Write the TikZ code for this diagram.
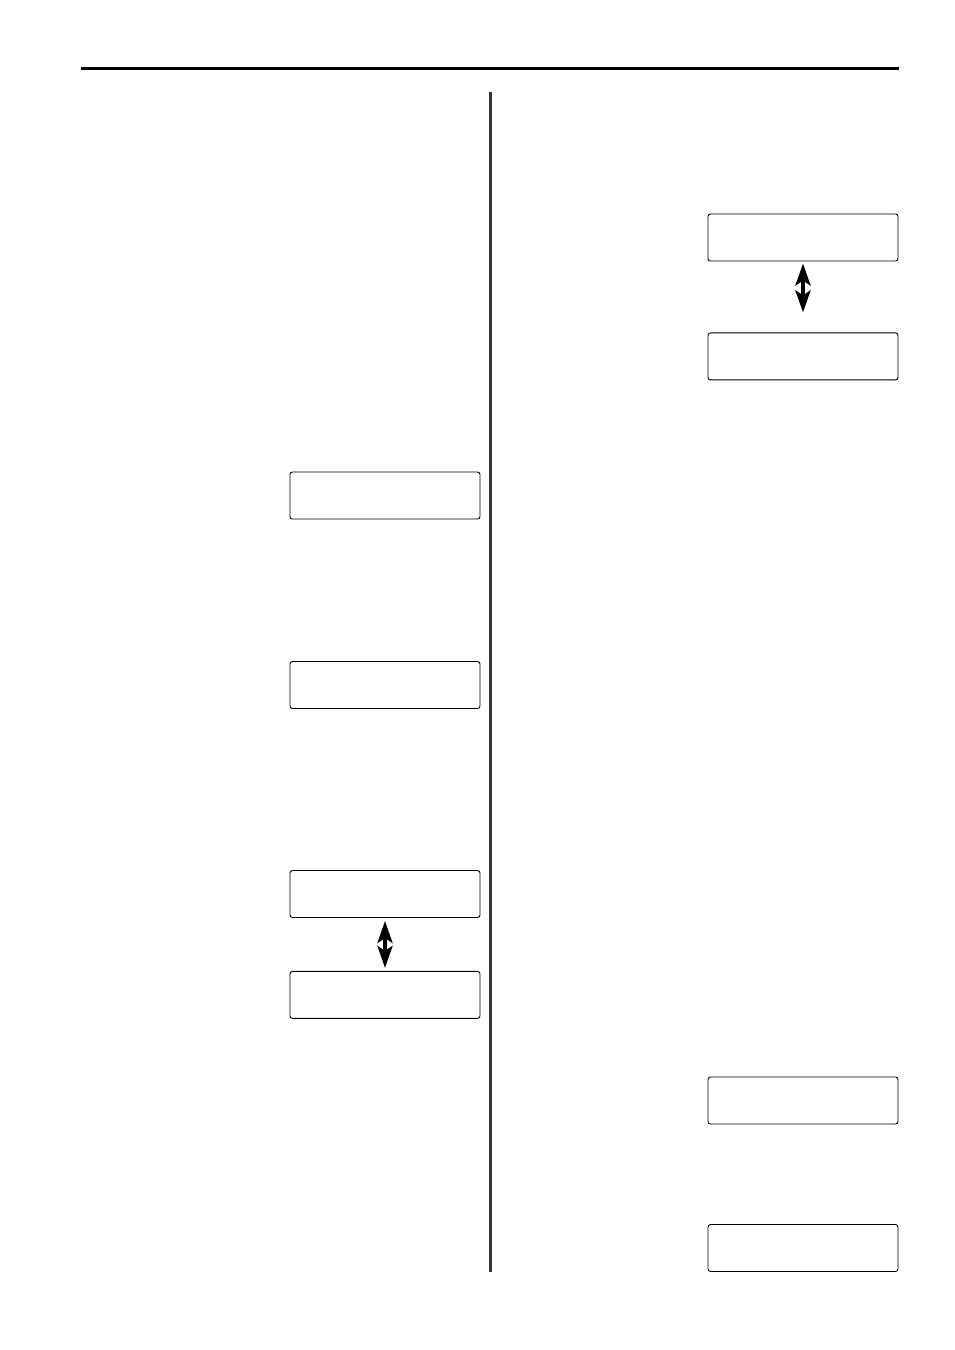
\documentclass[tikz,border=0pt]{standalone}
\usepackage{tikz}
\usetikzlibrary{arrows.meta, positioning}
\tikzset{
  lcd/.style={rectangle, rounded corners=2.5pt, minimum width=190pt, minimum height=47pt, inner sep=0pt, draw=black, line width=0.9pt},
  updown/.style={line width=4pt, {Stealth[length=22pt, width=15pt, inset=5pt]}-{Stealth[length=22pt, width=15pt, inset=5pt]}},
  rule/.style={line width=3pt}
}

\begin{document}
\begin{tikzpicture}[x=1pt, y=-1pt]
    \useasboundingbox (0,0) rectangle (954,1350);

    % Linea superior y separador de columnas
    \draw[rule] (81,68) -- (899,68);
    \draw[rule, black!80] (490,92) -- (490,1272);

    % -------------------------------------------------------------
    % COLUMNA IZQUIERDA
    % -------------------------------------------------------------
    \node[lcd] (L1) at (385,495.5) {};
    \node[lcd] (L2) at (385,685) {};
    \node[lcd] (L3) at (385,894) {};
    \node[lcd, below=53pt of L3] (L4) {};
    \draw[updown, shorten <=3pt, shorten >=3pt] (L3.south) -- (L4.north);

    % -------------------------------------------------------------
    % COLUMNA DERECHA
    % -------------------------------------------------------------
    \node[lcd] (R1) at (803,237.5) {};
    \node[lcd, below=71pt of R1] (R2) {};
    \draw[updown, shorten <=2pt, shorten >=20pt] (R1.south) -- (R2.north);

    \node[lcd] (R3) at (803,1100.5) {};
    \node[lcd] (R4) at (803,1248) {};

\end{tikzpicture}
\end{document}
